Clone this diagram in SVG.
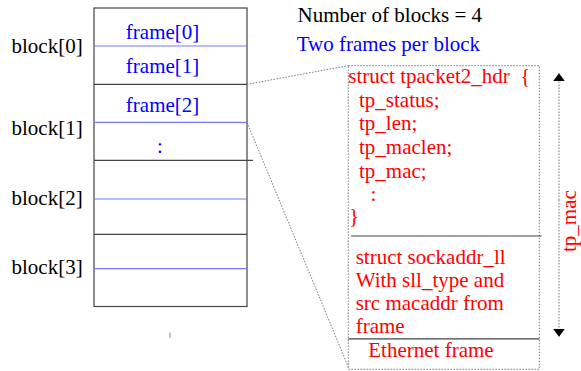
<svg xmlns="http://www.w3.org/2000/svg" width="581" height="371" viewBox="0 0 581 371">
<style>
text{font-family:"Liberation Serif","Times New Roman",serif;font-size:21px}
.k{fill:#000}
.b{fill:#0000ff}
.r{fill:#ff0000}
.sep{stroke:#444;stroke-width:1.2;fill:none}
.bl{stroke:#7777ff;stroke-width:1.2;fill:none}
.dot{stroke:#777;stroke-width:1;stroke-dasharray:1.5 1.5;fill:none}
</style>
<defs>
<marker id="ah" viewBox="0 0 8 12" refX="8" refY="6" markerWidth="8" markerHeight="12" markerUnits="userSpaceOnUse" orient="auto">
<path d="M0,0 L8,6 L0,12 Z" fill="#000"/>
</marker>
</defs>
<g id="ring">
<rect x="94" y="8" width="153" height="298.5" fill="#fff" stroke="#444" stroke-width="1.2"/>
<line class="bl" x1="94" y1="46" x2="247" y2="46"/>
<line class="sep" x1="94" y1="84.3" x2="247" y2="84.3"/>
<line class="bl" x1="94" y1="122.3" x2="247" y2="122.3"/>
<line class="sep" x1="94" y1="160.3" x2="253" y2="160.3"/>
<line class="bl" x1="94" y1="199" x2="247" y2="199"/>
<line class="sep" x1="94" y1="234.3" x2="247" y2="234.3"/>
<line class="bl" x1="94" y1="268.7" x2="247" y2="268.7"/>
<text class="b" x="162.6" y="39" text-anchor="middle">frame[0]</text>
<text class="b" x="162.6" y="72.7" text-anchor="middle">frame[1]</text>
<text class="b" x="162.6" y="111.7" text-anchor="middle">frame[2]</text>
<text class="b" x="160" y="153" text-anchor="middle">:</text>
<line x1="170" y1="332.5" x2="170" y2="338" stroke="#999" stroke-width="1.2"/>
</g>
<g id="labels">
<text class="k" x="11.5" y="53.3">block[0]</text>
<text class="k" x="11.5" y="135">block[1]</text>
<text class="k" x="11.5" y="205">block[2]</text>
<text class="k" x="11.5" y="274.3">block[3]</text>
<text class="k" x="297.5" y="21.7">Number of blocks = 4</text>
<text class="b" x="296.7" y="50.7">Two frames per block</text>
</g>
<g id="frame-detail">
<rect class="dot" x="348.3" y="65.7" width="191" height="303.6"/>
<line class="sep" x1="351" y1="236" x2="541.7" y2="236"/>
<line class="sep" x1="348.3" y1="338.8" x2="539.3" y2="338.8"/>
<text class="r" x="348.3" y="83" xml:space="preserve">struct tpacket2_hdr  {</text>
<text class="r" x="359" y="106.7">tp_status;</text>
<text class="r" x="359" y="130.4">tp_len;</text>
<text class="r" x="359" y="154.1">tp_maclen;</text>
<text class="r" x="359" y="177.8">tp_mac;</text>
<text class="r" x="370.5" y="200.5">:</text>
<text class="r" x="349" y="223">}</text>
<text class="r" x="355.7" y="264">struct sockaddr_ll</text>
<text class="r" x="355.7" y="287">With sll_type and</text>
<text class="r" x="355.7" y="310">src macaddr from</text>
<text class="r" x="355.7" y="333">frame</text>
<text class="r" x="368.3" y="356.7">Ethernet frame</text>
</g>
<g id="connectors">
<line class="dot" x1="247" y1="84.3" x2="348.3" y2="65.7"/>
<line class="dot" x1="247" y1="122.3" x2="348.3" y2="367"/>
<line class="dot" x1="559" y1="200" x2="559" y2="73.3" marker-end="url(#ah)"/>
<line class="dot" x1="559" y1="200" x2="559" y2="336.7" marker-end="url(#ah)"/>
</g>
<g id="tp-mac-label">
<text class="r" transform="translate(576,252) rotate(-90)">tp_mac</text>
</g>
</svg>
